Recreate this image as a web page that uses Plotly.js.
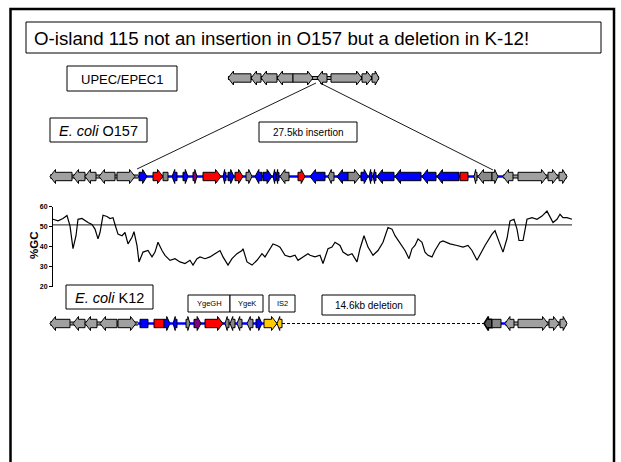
<!DOCTYPE html>
<html><head><meta charset="utf-8">
<script src="https://cdn.plot.ly/plotly-3.0.1.min.js"></script>
<style>html,body{margin:0;padding:0;background:#fff}#c{width:621px;height:462px}</style>
</head><body><div id="c"></div><script>
// %GC sliding window (map position, %GC)
const gcPos = [53,58,63,67,70,73,76,78,82,85,88,92,95,98,100,103,107,110,113,115,118,122,125,128,132,134,137,139,143,148,152,155,158,162,165,170,175,180,185,190,193,197,200,205,210,215,220,223,228,232,237,242,243,247,252,257,262,265,268,273,277,280,285,290,295,298,303,308,
 310,315,320,323,328,332,335,340,343,348,352,357,360,364,368,373,378,383,388,392,395,398,402,405,409,412,415,418,422,425,428,432,435,440,443,450,457,463,468,472,477,482,485,492,495,498,503,507,510,514,517,519,523,527,532,537,542,547,550,553,557,560,563,567,572];
const gcVal = [53.6,52.8,54,55.5,50.3,38.9,45.4,53.6,54,52.8,52,51,48.7,43.8,47,55.6,55,54,54.4,51,46.2,45.4,47,41.3,44.6,47.4,40.5,32.3,37.2,38,34.8,37.2,42.1,38,35.6,33.1,33.9,32.3,31.5,33.1,30.7,33.9,34.8,33.9,34.8,36.4,38,34.8,30.7,33.9,36.4,38,38.9,32.3,30.7,33.1,36.4,34.8,37.2,41.3,40.5,39.7,35.6,34.8,35.6,33.1,34.8,36.4,
 35.6,34.8,35.6,31.5,38.9,39.7,42.1,40.5,37.2,35.6,36.4,32.3,38.9,45.4,39.7,35.6,38,42.1,49.5,48.7,45.4,43,39.7,38,33.9,38.9,40.5,43.8,42.1,37.2,35.6,34.8,38,42.1,42.8,41.3,40.5,39.7,40.5,38,33.1,38,40.5,46.2,47.9,43.8,37.2,44,52.8,53.6,48.7,43,43,53.6,54.4,53.6,55.2,57.7,55.2,52,53.6,56.1,54.4,54.4,53.6];
const gcMean = 50.8;
const gcTicks = [20,30,40,50,60];

// genes: [start, end, strand(1 / -1 / 0), class]
// classes: G flank grey, D island grey, B blue, R red, P purple, Y yellow, K dark
const upecGenes = [[228,251,-1,'G'],[251,261,-1,'G'],[261,277,-1,'G'],[277,293,-1,'G'],[293,313,1,'G'],[317,327,-1,'G'],[331,362,1,'G'],[362,372,1,'G'],[372,379,1,'G']];
const o157Genes = [[50,72,-1,'G'],[73,85,-1,'G'],[85,96,-1,'G'],[99,115,-1,'G'],[117,135,1,'G'],
 [139,147,1,'B'],[153,163,1,'R'],[163,168,0,'D'],[172,177,-1,'B'],[183,188,1,'B'],[193,197,1,'P'],[203,221,1,'R'],
 [223,226,-1,'B'],[228,234,1,'B'],[235,243,1,'R'],[246,252,1,'D'],[255,262,-1,'B'],[263,272,1,'B'],[273,276,-1,'B'],[276,279,-1,'B'],[280,289,-1,'D'],
 [298,305,1,'R'],[310,325,-1,'B'],[328,334,-1,'D'],[337,348,-1,'B'],[348,360,1,'D'],[361,368,1,'B'],[369,372,-1,'B'],[373,376,-1,'B'],[377,394,-1,'B'],[395,421,-1,'B'],[422,436,-1,'B'],[437,459,-1,'B'],[460,468,0,'R'],
 [474,477,-1,'D'],[478,492,-1,'D'],[492,498,1,'D'],
 [503,513,-1,'G'],[518,547,1,'G'],[548,558,1,'G'],[559,567,1,'G']];
const k12Genes = [[50,70,-1,'G'],[73,85,-1,'G'],[85,97,-1,'G'],[100,117,-1,'G'],[118,136,1,'G'],
 [140,148,0,'B'],[154,164,0,'R'],[164,170,1,'B'],[173,177,-1,'B'],[186,190,1,'D'],[194,201,1,'P'],[205,223,1,'R'],
 [225,229,-1,'D'],[230,235,-1,'D'],[237,242,-1,'D'],[247,253,-1,'D'],[256,262,1,'B'],[264,277,1,'Y'],[277,282,-1,'Y'],
 [484,492,-1,'K'],[492,501,0,'D'],[505,514,-1,'G'],[518,548,1,'G'],[549,559,1,'G'],[560,567,1,'G']];

// backbones: [start, end, style]
const upecBackbone = [[228,379,'grey']];
const o157Backbone = [[50,138,'grey'],[138,478,'blue'],[478,503,'blue'],[503,567,'grey']];
const k12Backbone = [[50,138,'grey'],[138,282,'blue'],[282,484,'dash'],[500,505,'blue'],[505,567,'grey']];

const colours = {G:'#a0a0a0',D:'#888888',B:'#0000ff',R:'#ff0000',P:'#800080',Y:'#ffcc00',K:'#555555'};
const rows = {upec:78, o157:176.5, k12:323.5};

const traces = [];
function addBackbone(list, yc){
  list.forEach(([s,e,st])=>{
    if(st==='grey'){
      traces.push({x:[s,e],y:[yc,yc],mode:'lines',line:{color:'#000',width:4},hoverinfo:'skip',xaxis:'x',yaxis:'y'});
      traces.push({x:[s,e],y:[yc,yc],mode:'lines',line:{color:'#a0a0a0',width:2},hoverinfo:'skip',xaxis:'x',yaxis:'y'});
    } else if(st==='blue'){
      traces.push({x:[s,e],y:[yc,yc],mode:'lines',line:{color:'#0000ff',width:2.5},hoverinfo:'skip',xaxis:'x',yaxis:'y'});
    } else {
      traces.push({x:[s,e],y:[yc,yc],mode:'lines',line:{color:'#000',width:1,dash:'3px,2px'},hoverinfo:'skip',xaxis:'x',yaxis:'y'});
    }
  });
}
function genePoly(s,e,d,yc){
  const b=4.2, hh=7, h=Math.min(5.5,(e-s)*0.55);
  if(d===1) return {x:[s,e-h,e-h,e,e-h,e-h,s,s],y:[yc-b,yc-b,yc-hh,yc,yc+hh,yc+b,yc+b,yc-b]};
  if(d===-1) return {x:[e,s+h,s+h,s,s+h,s+h,e,e],y:[yc-b,yc-b,yc-hh,yc,yc+hh,yc+b,yc+b,yc-b]};
  return {x:[s,e,e,s,s],y:[yc-b,yc-b,yc+b,yc+b,yc-b]};
}
function addGenes(list, yc){
  list.forEach(([s,e,d,c])=>{
    const p=genePoly(s,e,d,yc);
    traces.push({x:p.x,y:p.y,mode:'lines',fill:'toself',fillcolor:colours[c],
      line:{color:'#000',width:(c==='K'?1.5:1)},hoverinfo:'skip',xaxis:'x',yaxis:'y'});
  });
}
addBackbone(upecBackbone, rows.upec); addGenes(upecGenes, rows.upec);
addBackbone(o157Backbone, rows.o157); addGenes(o157Genes, rows.o157);
addBackbone(k12Backbone, rows.k12); addGenes(k12Genes, rows.k12);

// insertion guide lines
const guideA = {x:[316,137],y:[83,169]};
const guideB = {x:[320,493],y:[83,170]};
[guideA,guideB].forEach(g=>traces.push({x:g.x,y:g.y,mode:'lines',line:{color:'#000',width:0.9},hoverinfo:'skip',xaxis:'x',yaxis:'y'}));

// GC plot
traces.push({x:[gcPos[0],gcPos[gcPos.length-1]],y:[gcMean,gcMean],mode:'lines',line:{color:'#000',width:0.9},hoverinfo:'skip',xaxis:'x',yaxis:'y2'});
traces.push({x:gcPos,y:gcVal,mode:'lines',line:{color:'#000',width:1.2},hoverinfo:'skip',xaxis:'x',yaxis:'y2'});

const F = 'Liberation Sans, Arial, sans-serif';
const boxes = [
  {r:[26,22,601,53], t:'O-island 115 not an insertion in O157 but a deletion in K-12!', tx:32, ty:38, s:18.7, a:'left'},
  {r:[67,66,177,91], t:'UPEC/EPEC1', tx:122, ty:79, s:13, a:'center'},
  {r:[50,118,147,142], t:'<i>E. coli</i> O157', tx:98.5, ty:130.5, s:14.5, a:'center'},
  {r:[259,122,357,142], t:'27.5kb insertion', tx:308, ty:132.5, s:10, a:'center'},
  {r:[66,285,153,309], t:'<i>E. coli</i> K12', tx:109.5, ty:297.5, s:14.5, a:'center'},
  {r:[188,295,230,312], t:'YgeGH', tx:209, ty:303.5, s:7.5, a:'center'},
  {r:[230,295,263,312], t:'YgeK', tx:246.5, ty:303.5, s:7.5, a:'center'},
  {r:[269,295,295,312], t:'IS2', tx:282, ty:303.5, s:7.5, a:'center'},
  {r:[322,295,415,315], t:'14.6kb deletion', tx:368.5, ty:305.5, s:10, a:'center'}
];
const shapes = [{type:'rect',xref:'x',yref:'y',x0:10.5,x1:614,y0:9,y1:480,line:{color:'#000',width:2.5},layer:'below'}];
const annotations = [];
boxes.forEach(b=>{
  shapes.push({type:'rect',xref:'x',yref:'y',x0:b.r[0],y0:b.r[1],x1:b.r[2],y1:b.r[3],line:{color:'#000',width:1},fillcolor:'#fff',layer:'below'});
  annotations.push({xref:'x',yref:'y',x:b.tx,y:b.ty,text:b.t,showarrow:false,xanchor:b.a,yanchor:'middle',font:{family:F,size:b.s,color:'#000'}});
});
annotations.push({xref:'x',yref:'y',x:34,y:246,text:'<b>%GC</b>',textangle:-90,showarrow:false,font:{family:F,size:11.5,color:'#000'}});

const layout = {
  width:621,height:462,margin:{l:0,r:0,t:0,b:0},paper_bgcolor:'#fff',plot_bgcolor:'rgba(0,0,0,0)',showlegend:false,
  xaxis:{range:[0,621],visible:false,fixedrange:true},
  yaxis:{range:[462,0],visible:false,fixedrange:true},
  yaxis2:{domain:[1-286.5/462,1-206.5/462],range:[20,60],anchor:'free',position:52/621,tickvals:gcTicks,
    ticks:'outside',ticklen:3,tickwidth:1,tickcolor:'#000',showline:true,linecolor:'#000',linewidth:1,
    showgrid:false,zeroline:false,tickfont:{family:F,size:7,color:'#000',weight:'bold'},fixedrange:true},
  shapes:shapes,annotations:annotations
};
Plotly.newPlot('c',traces,layout,{staticPlot:true,displayModeBar:false});
</script></body></html>
